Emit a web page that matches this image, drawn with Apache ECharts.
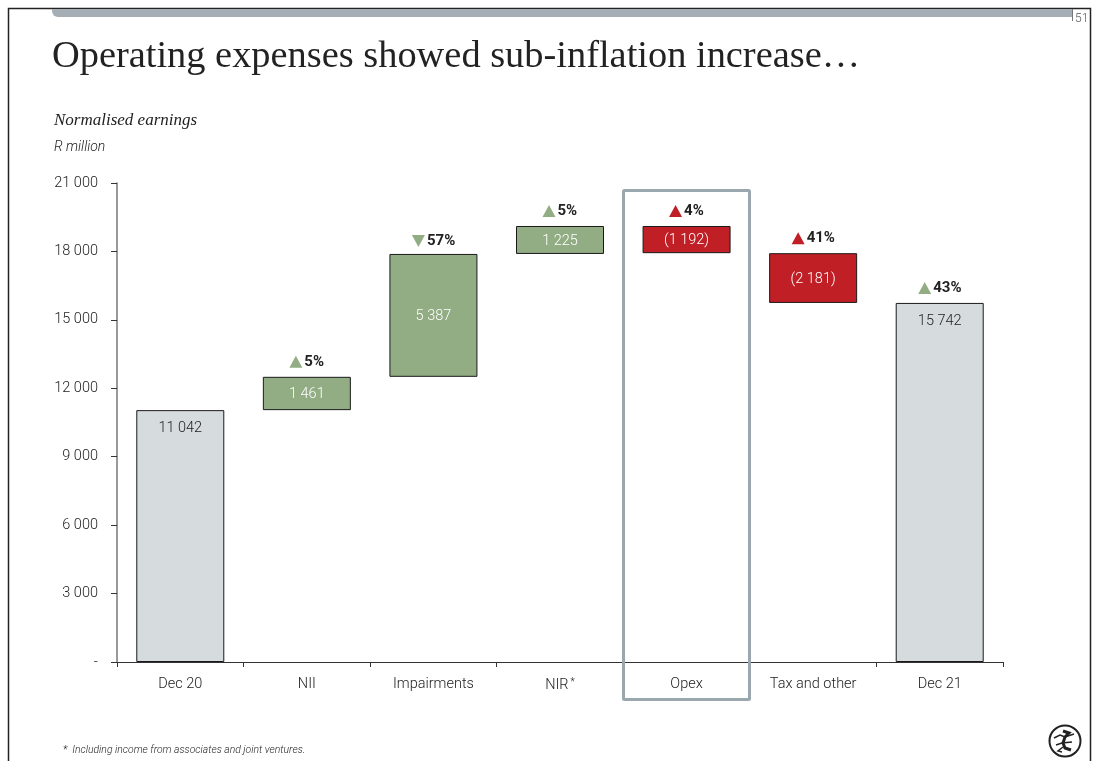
<!DOCTYPE html>
<html>
<head>
<meta charset="utf-8">
<title>Operating expenses</title>
<script src="https://cdn.jsdelivr.net/npm/echarts@6/dist/echarts.min.js"></script>
<style>
  html, body { margin: 0; padding: 0; background: #fff; }
  #chart { width: 1096px; height: 761px; }
</style>
</head>
<body>
<div id="chart"></div>
<script>
const categories = ['Dec 20', 'NII', 'Impairments', 'NIR*', 'Opex', 'Tax and other', 'Dec 21'];
const yTickLabels = ['-', '3 000', '6 000', '9 000', '12 000', '15 000', '18 000', '21 000'];

// waterfall pieces, base is the invisible part under each floating bar
const baseValues = [null, 11042, 12503, 17890, 17923, 15742, null];
const totalValues = [11042, null, null, null, null, null, 15742];
const increaseValues = [null, 1461, 5387, 1225, null, null, null];
const decreaseValues = [null, null, null, null, 1192, 2181, null];
const barLabels = ['11 042', '1 461', '5 387', '1 225', '(1 192)', '(2 181)', '15 742'];

// year on year change shown above the bars
const changeLabels = [null, '5%', '57%', '5%', '4%', '41%', '43%'];
const changeAnchors = [null, 12503, 17890, 19115, 19115, 17923, 15742];
const changeDirections = [null, 'up', 'down', 'up', 'up', 'up', 'up'];
const changeTones = [null, 'good', 'good', 'good', 'bad', 'bad', 'good'];

const GREY = '#D6DBDE';
const GREEN = '#92AC84';
const RED = '#C01F26';
const FRAME = '#9AA7AF';
const INK = '#222222';
const SANS = 'Roboto, "Liberation Sans", Arial, sans-serif';
const SERIF = '"Liberation Serif", serif';

const chart = echarts.init(document.getElementById('chart'), null, { renderer: 'canvas' });

const barSeries = (name, values, color, labelColor, labelPosition, labelOffset) => ({
  name: name,
  type: 'bar',
  stack: 'waterfall',
  data: values,
  barWidth: 88,
  silent: true,
  itemStyle: { color: color, borderColor: '#1a1a1a', borderWidth: 1 },
  label: {
    show: true,
    position: labelPosition,
    distance: labelOffset,
    offset: [0, 1],
    color: labelColor,
    fontFamily: SANS,
    fontWeight: 300,
    fontSize: 14.5,
    formatter: (p) => barLabels[p.dataIndex],
  },
});

const changeData = categories.map((c, i) => {
  if (changeLabels[i] === null) return null;
  const wide = changeLabels[i].length > 2;
  return {
    value: [c, changeAnchors[i]],
    symbolRotate: changeDirections[i] === 'down' ? 180 : 0,
    symbolOffset: [wide ? -15 : -11, changeDirections[i] === 'down' ? -13 : -15],
    itemStyle: { color: changeTones[i] === 'good' ? GREEN : RED, opacity: 1 },
  };
}).filter(Boolean);

const option = {
  animation: false,
  backgroundColor: '#fff',
  title: [
    { text: 'Operating expenses showed sub-inflation increase…', left: 47, top: 33,
      textStyle: { fontFamily: SERIF, fontWeight: 'normal', fontSize: 38.4, color: '#222' } },
    { text: 'Normalised earnings', left: 49, top: 107,
      textStyle: { fontFamily: SERIF, fontStyle: 'italic', fontWeight: 'normal', fontSize: 17, color: INK } },
    { text: 'R million', left: 49, top: 135,
      textStyle: { fontFamily: SANS, fontStyle: 'italic', fontWeight: 300, fontSize: 14, color: INK } },
    { text: '*  Including income from associates and joint ventures.', left: 58, top: 740,
      textStyle: { fontFamily: SANS, fontStyle: 'italic', fontWeight: 300, fontSize: 10.4, color: INK } },
    { text: '51', left: 1070, top: 8,
      textStyle: { fontFamily: SANS, fontWeight: 300, fontSize: 12, color: '#555' } },
  ],
  grid: { left: 117, right: 93, top: 183, bottom: 99, containLabel: false },
  xAxis: {
    type: 'category',
    data: categories,
    axisLine: { lineStyle: { color: '#333', width: 1 } },
    axisTick: { show: true, length: 5, lineStyle: { color: '#333' } },
    axisLabel: {
      margin: 15,
      color: INK,
      fontFamily: SANS,
      fontWeight: 300,
      fontSize: 14.5,
      interval: 0,
      formatter: (v) => v.endsWith('*') ? v.slice(0, -1) + '{sup|*}' : v,
      rich: { sup: { fontSize: 10, verticalAlign: 'top', color: INK, fontFamily: SANS, padding: [0, 0, 6, 2] } },
    },
  },
  yAxis: {
    type: 'value',
    min: 0,
    max: 21000,
    interval: 3000,
    splitLine: { show: false },
    axisLine: { show: true, lineStyle: { color: '#777', width: 1.5 } },
    axisTick: { show: true, length: 6, lineStyle: { color: '#333' } },
    axisLabel: {
      margin: 19,
      padding: [2, 0, 0, 0],
      color: INK,
      fontFamily: SANS,
      fontWeight: 300,
      fontSize: 14.5,
      formatter: (v) => yTickLabels[v / 3000],
    },
  },
  series: [
    { name: 'base', type: 'bar', stack: 'waterfall', data: baseValues, barWidth: 88, silent: true,
      itemStyle: { color: 'transparent' } },
    barSeries('total', totalValues, GREY, '#222', 'insideTop', 10),
    barSeries('increase', increaseValues, GREEN, '#fff', 'inside', 0),
    barSeries('decrease', decreaseValues, RED, '#fff', 'inside', 0),
    {
      name: 'change',
      type: 'scatter',
      data: changeData,
      symbol: 'triangle',
      symbolSize: [13, 12],
      silent: true,
      label: {
        show: true,
        position: 'right',
        distance: 2,
        color: '#222',
        fontFamily: SANS,
        fontWeight: 'bold',
        fontSize: 15,
        formatter: (p) => changeLabels[categories.indexOf(p.value[0])],
      },
    },
  ],
  graphic: [
    // page frame and header band
    { type: 'polyline', shape: { points: [[8.5, 761], [8.5, 8.5], [1090.5, 8.5], [1090.5, 761]] },
      style: { stroke: '#222', lineWidth: 1.5, fill: null } },
    { type: 'rect', shape: { x: 52, y: 9, width: 1020, height: 8, r: [0, 0, 0, 6] },
      style: { fill: '#A5AEB4' } },
    { type: 'line', shape: { x1: 1072.5, y1: 9, x2: 1072.5, y2: 21 }, style: { stroke: '#777', lineWidth: 1 } },
    // highlight around Opex
    { type: 'rect', z: 10, shape: { x: 623.5, y: 190.5, width: 126, height: 509, r: 1 },
      style: { fill: null, stroke: FRAME, lineWidth: 3 } },
    // crest, a rough lion inside a ring
    { type: 'circle', shape: { cx: 1065, cy: 741, r: 15.5 }, style: { fill: '#fff', stroke: '#222', lineWidth: 2 } },
    { type: 'polyline', shape: { points: [[1063, 731], [1069, 733], [1065, 737], [1063, 743], [1065, 748], [1071, 750]] },
      style: { stroke: '#222', lineWidth: 3, fill: null } },
    { type: 'polyline', shape: { points: [[1054, 738], [1060, 735], [1065, 737], [1074, 734]] },
      style: { stroke: '#222', lineWidth: 1.5, fill: null } },
    { type: 'polyline', shape: { points: [[1056, 745], [1062, 743], [1072, 742]] },
      style: { stroke: '#222', lineWidth: 1.5, fill: null } },
    { type: 'polyline', shape: { points: [[1063, 747], [1058, 751], [1062, 752]] },
      style: { stroke: '#222', lineWidth: 1.5, fill: null } },
  ],
};

chart.setOption(option);
</script>
</body>
</html>
